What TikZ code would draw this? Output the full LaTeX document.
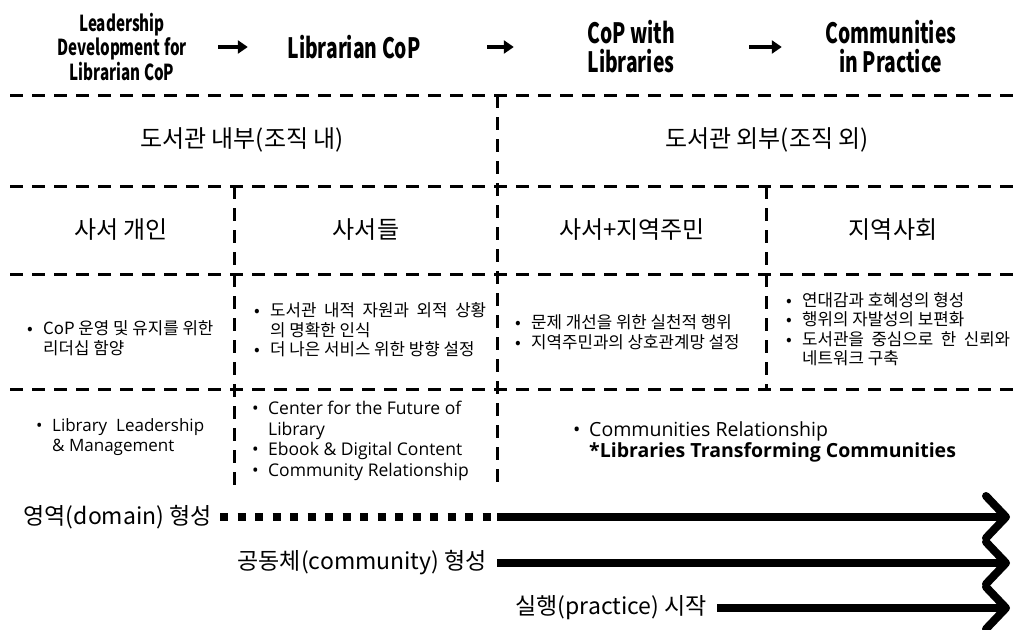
\documentclass[tikz,border=0pt]{standalone}
\usepackage{fontspec}
\setmainfont{Noto Sans CJK KR}
\newfontfamily\headfont[FakeStretch=0.69]{Noto Sans CJK KR}
\newfontfamily\engfont{Open Sans}
\usetikzlibrary{positioning, arrows.meta, calc}
\definecolor{ink}{HTML}{000000}
\newcommand{\bulitem}{\makebox[16pt][l]{•}}
\newcommand{\bulcont}{\hspace*{16pt}}

\begin{document}
\begin{tikzpicture}[x=1pt, y=-1pt,
    grid/.style={draw=ink, line width=3pt, dash pattern=on 13pt off 9pt},
    hdr/.style={align=center, inner sep=0pt, minimum width=180pt, text=ink,
      font=\headfont\bfseries\fontsize{28}{29}\selectfont},
    cell/.style={inner sep=0pt, text=ink, font=\fontsize{24}{28}\selectfont},
    bulbox/.style={anchor=west, align=left, inner sep=0pt, text=ink,
      font=\fontsize{16.8}{19.5}\selectfont},
    bulboxen/.style={bulbox, font=\engfont\fontsize{17.5}{20.5}\selectfont},
    flowlbl/.style={anchor=east, inner sep=0pt, text=ink,
      font=\fontsize{23}{27}\selectfont},
    hdarrow/.style={-{Triangle[length=10pt, width=13pt]}, line width=4.5pt, color=ink},
    flow/.style={-{Straight Barb[length=20pt, width=42pt, round]}, line width=8pt, color=ink},
    flowdot/.style={line width=8pt, color=ink, dash pattern=on 8pt off 9.5pt}]

  \useasboundingbox (0,0) rectangle (1014,629);

  % stages
  \node[hdr, font=\headfont\bfseries\fontsize{22}{24.5}\selectfont] (lead) at (122,47)
    {Leadership\\Development for\\Librarian CoP};
  \node[hdr] (libcop) at (354,47) {Librarian CoP};
  \node[hdr] (copwith) at (631,47) {CoP with\\Libraries};
  \node[hdr] (inpract) at (891,47) {Communities\\in Practice};

  \draw[hdarrow, shorten <=6pt, shorten >=16pt] (lead) -- (libcop);
  \draw[hdarrow, shorten <=43pt, shorten >=27pt] (libcop) -- (copwith);
  \draw[hdarrow, shorten <=28pt, shorten >=19pt] (copwith) -- (inpract);

  % table
  \foreach \y in {95,186,274,389}
    \draw[grid] (10,\y) -- (1014,\y);
  \draw[grid] (497,95) -- (497,487);
  \draw[grid] (234,186) -- (234,487);
  \draw[grid] (766,186) -- (766,389);

  \node[cell] (inner) at (242,140) {도서관 내부(조직 내)};
  \node[cell] (outer) at (767,140) {도서관 외부(조직 외)};

  \node[cell] (self) at (121,230) {사서 개인};
  \node[cell] (libs) at (366,230) {사서들};
  \node[cell] (libres) at (632,230) {사서+지역주민};
  \node[cell] (local) at (893,230) {지역사회};

  \node[bulbox] (goal1) at (27,338)
    {\bulitem CoP 운영 및 유지를 위한\\\bulcont 리더십 함양};
  \node[bulbox] (goal2) at (254,330)
    {\bulitem\makebox[216pt][s]{도서관 내적 자원과 외적 상황}\\\bulcont 의 명확한 인식\\
     \bulitem 더 나은 서비스 위한 방향 설정};
  \node[bulbox] (goal3) at (515,332)
    {\bulitem 문제 개선을 위한 실천적 행위\\\bulitem 지역주민과의 상호관계망 설정};
  \node[bulbox] (goal4) at (786,329)
    {\bulitem 연대감과 호혜성의 형성\\\bulitem 행위의 자발성의 보편화\\
     \bulitem\makebox[208pt][s]{도서관을 중심으로 한 신뢰와}\\\bulcont 네트워크 구축};

  \node[bulboxen, font=\engfont\fontsize{17}{20.5}\selectfont] (prog1) at (36,437)
    {\bulitem\makebox[152pt][s]{Library Leadership}\\\bulcont\& Management};
  \node[bulboxen] (prog2) at (252,441)
    {\bulitem Center for the Future of\\\bulcont Library\\
     \bulitem Ebook \& Digital Content\\\bulitem Community Relationship};
  \node[bulboxen, font=\engfont\fontsize{19.5}{21.5}\selectfont] (prog3) at (573,442)
    {\bulitem Communities Relationship\\\bulcont\textbf{*Libraries Transforming Communities}};

  % CoP elements
  \node[flowlbl] (domain) at (212,517) {영역(domain) 형성};
  \node[flowlbl] (commu) at (487,563) {공동체(community) 형성};
  \node[flowlbl] (pract) at (707,608) {실행(practice) 시작};
  \coordinate (domainmid) at (497,517);
  \coordinate (domainend) at (1010,517);
  \coordinate (commuend) at (1010,563);
  \coordinate (practend) at (1010,608);

  \draw[flowdot, shorten <=8pt] (domain) -- (domainmid);
  \draw[flow] (domainmid) -- (domainend);
  \draw[flow, shorten <=10pt] (commu) -- (commuend);
  \draw[flow, shorten <=10pt] (pract) -- (practend);
\end{tikzpicture}
\end{document}
